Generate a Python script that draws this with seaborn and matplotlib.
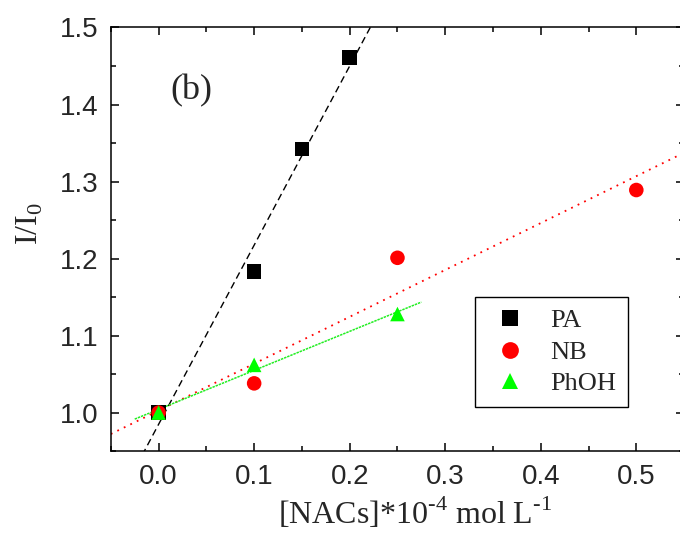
import numpy as np
import pandas as pd
import matplotlib
matplotlib.use("Agg")
import matplotlib.pyplot as plt
import seaborn as sns
from matplotlib.ticker import MultipleLocator, FormatStrFormatter

# data
pa_x = [0.0, 0.10, 0.15, 0.20]
pa_y = [1.000, 1.183, 1.342, 1.461]
nb_x = [0.0, 0.10, 0.25, 0.50]
nb_y = [1.000, 1.038, 1.201, 1.289]
ph_x = [0.0, 0.10, 0.25]
ph_y = [1.000, 1.062, 1.128]
series = ["PA", "NB", "PhOH"]

df = pd.concat([
    pd.DataFrame({"x": pa_x, "y": pa_y, "s": "PA"}),
    pd.DataFrame({"x": nb_x, "y": nb_y, "s": "NB"}),
    pd.DataFrame({"x": ph_x, "y": ph_y, "s": "PhOH"}),
], ignore_index=True)

sns.set_style("ticks")
plt.rcParams["font.family"] = ["Liberation Sans", "DejaVu Sans"]

fig = plt.figure(figsize=(6.8, 5.39), dpi=100)
ax = fig.add_axes([0.163, 0.163, 0.843, 0.786])

xmin, xmax = -0.05, 0.55
ax.set_xlim(xmin, xmax)
ax.set_ylim(0.95, 1.5)

# linear fits
k, b = np.polyfit(pa_x, pa_y, 1)
xx = np.array([xmin, xmax])
ax.plot(xx, k * xx + b, color="black", ls=(0, (5, 3)), lw=1.0, zorder=2)
k, b = np.polyfit(nb_x, nb_y, 1)
ax.plot(xx, k * xx + b, color="red", ls=(0, (1, 3)), lw=1.3, zorder=2)
k, b = np.polyfit(ph_x, ph_y, 1)
xp = np.array([-0.025, 0.275])
ax.plot(xp, k * xp + b, color="#22ee22", ls=(0, (1.6, 0.6)), lw=1.1, zorder=2)

palette = {"PA": "black", "NB": "red", "PhOH": "#00ff00"}
markers = {"PA": "s", "NB": "o", "PhOH": "^"}
sns.scatterplot(data=df, x="x", y="y", hue="s", style="s", hue_order=series,
                style_order=series, palette=palette, markers=markers,
                s=110, edgecolor="none", linewidth=0, ax=ax, zorder=3)

ax.xaxis.set_major_locator(MultipleLocator(0.1))
ax.xaxis.set_minor_locator(MultipleLocator(0.05))
ax.yaxis.set_major_locator(MultipleLocator(0.1))
ax.yaxis.set_minor_locator(MultipleLocator(0.05))
ax.tick_params(which="both", direction="in", top=True, right=True, width=1.1,
               color="black")
ax.tick_params(which="major", length=6, labelsize=20, pad=9)
ax.tick_params(which="minor", length=3.5)
ax.xaxis.set_major_formatter(FormatStrFormatter("%.1f"))
ax.yaxis.set_major_formatter(FormatStrFormatter("%.1f"))
for sp in ax.spines.values():
    sp.set_visible(True)
    sp.set_linewidth(1.1)
    sp.set_color("black")

serif = ["Liberation Serif", "DejaVu Serif"]
ax.set_xlabel("[NACs]*10$^{\\mathregular{\u2010}\\mathregular{4}}$ mol L$^{\\mathregular{\u2010}\\mathregular{1}}$",
              fontsize=23, family=serif)
ax.xaxis.set_label_coords(0.53, -0.105)
ax.set_ylabel(r"I/I$_{\mathregular{0}}$", fontsize=23, family=serif)
ax.yaxis.set_label_coords(-0.115, 0.538)
ax.text(0.012, 1.418, "(b)", fontsize=26, family=serif, ha="left", va="center")

handles, labels = ax.get_legend_handles_labels()
leg = ax.legend(handles, labels, loc="upper left",
                bbox_to_anchor=(475 / 680, 1 - 297 / 539),
                bbox_transform=fig.transFigure,
                prop={"family": serif, "size": 19}, frameon=True,
                fancybox=False, edgecolor="black", framealpha=1,
                borderpad=0.45, labelspacing=0.3, handlelength=1.75,
                handletextpad=0.65, borderaxespad=0, markerscale=1.15,
                title=None)
leg.get_frame().set_linewidth(1.0)

fig.savefig("out.png", dpi=100)
